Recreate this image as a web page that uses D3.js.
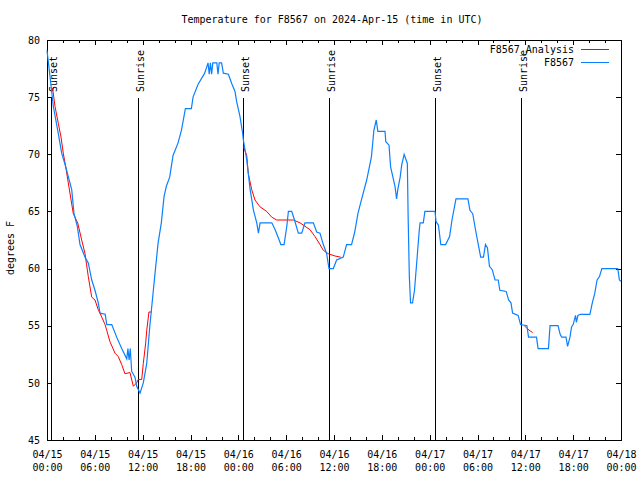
<!DOCTYPE html>
<html><head><meta charset="utf-8">
<script src="https://cdn.jsdelivr.net/npm/d3@7"></script>
<style>
body{margin:0;background:#fff;}
text{font-family:"DejaVu Sans Mono",monospace;font-size:10px;fill:#000;}
</style></head>
<body><svg id="c" width="640" height="480"></svg>
<script>
// ---- data (hours since 2024-04-15 00:00 UTC, temperature °F) ----
const titleText = "Temperature for F8567 on 2024-Apr-15 (time in UTC)";
const yLabel = "degrees F";
const seriesNames = ["F8567_Analysis", "F8567"];
const yTicks = [45, 50, 55, 60, 65, 70, 75, 80];

const stationSeries = [
[0.00,79.1],[0.38,76.8],[0.79,74.2],[1.42,71.8],[1.84,70.1],[2.35,68.9],[2.76,67.8],[3.10,66.9],
[3.39,64.8],[3.80,63.7],[4.14,62.1],[4.77,61.0],[5.18,60.5],[5.61,59.0],[6.02,58.1],[6.43,57.0],
[6.65,56.1],[7.3,56.0],[7.5,55.1],[8.12,55.1],[8.74,54.0],[9.37,53.0],[10.0,52.1],[10.15,53.0],
[10.3,52.0],[10.45,53.0],[10.62,51.0],[11.04,50.5],[11.25,49.7],[11.67,49.1],[12.08,50.0],
[12.51,51.7],[12.9,55.0],[13.1,56.4],[13.51,59.3],[13.93,62.2],[14.34,64.0],[14.68,66.3],
[14.97,67.2],[15.39,68.0],[15.81,69.9],[16.44,71.0],[16.86,72.1],[17.36,74.0],[18.11,74.0],
[18.32,75.0],[18.94,76.1],[19.78,77.1],[20.2,78.0],[20.35,77.0],[20.5,78.0],[20.65,77.0],
[20.8,78.0],[21.3,78.0],[21.45,77.0],[21.6,78.0],[21.9,78.0],[22.12,77.1],[22.75,77.0],
[23.17,76.2],[23.58,75.5],[23.79,74.6],[24.21,73.3],[24.55,71.8],[24.63,71.25],[25.06,69.5],
[25.48,66.9],[25.90,65.1],[26.31,64.0],[26.52,63.1],[26.73,64.0],[28.20,64.0],[28.62,63.4],
[29.12,62.5],[29.33,62.1],[29.74,62.1],[30.08,63.7],[30.28,65.0],[30.70,65.0],[31.11,64.1],
[31.53,63.1],[31.95,63.1],[32.36,64.0],[33.41,64.0],[33.83,63.2],[34.24,63.1],[34.66,62.1],
[35.08,61.3],[35.37,60.0],[35.91,60.0],[36.33,60.75],[37.16,61.0],[37.58,62.1],[38.2,62.1],
[38.6,63.2],[39.0,64.8],[39.4,65.9],[40.1,67.75],[40.7,69.8],[41.0,72.1],[41.3,73.0],
[41.5,72.0],[42.4,72.0],[42.5,71.1],[42.9,70.8],[43.1,68.9],[43.65,67.2],[43.85,66.1],
[44.0,66.9],[44.3,68.0],[44.5,69.1],[44.8,70.0],[45.2,69.2],[45.3,64.5],[45.45,59.3],
[45.6,57.0],[45.85,57.0],[46.1,58.1],[46.4,60.75],[46.7,63.4],[46.8,64.0],[47.2,64.0],
[47.4,65.0],[48.67,65.0],[48.8,64.1],[49.1,63.8],[49.4,62.1],[50.0,62.1],[50.5,62.8],
[50.8,64.25],[51.3,66.1],[52.8,66.1],[53.05,65.1],[53.4,64.8],[53.8,63.2],[54.1,62.1],
[54.4,61.0],[54.75,61.0],[55.0,62.1],[55.25,61.8],[55.5,60.2],[55.85,59.9],[56.2,59.0],
[56.6,59.0],[56.8,58.1],[57.6,58.0],[57.9,57.25],[58.2,57.0],[58.4,56.1],[59.1,55.9],
[59.4,55.1],[60.2,55.0],[60.4,54.0],[61.4,54.0],[61.6,53.0],[62.9,53.0],[63.1,55.0],
[64.1,55.0],[64.35,54.3],[64.55,54.0],[65.1,54.0],[65.3,53.2],[65.6,54.0],[65.8,54.9],
[66.0,55.1],[66.3,55.9],[66.4,55.3],[66.6,55.9],[66.9,56.0],[68.1,56.0],[68.4,57.0],
[68.7,57.8],[69.0,59.0],[69.3,59.3],[69.6,60.0],[71.6,60.0],[71.8,59.0],[72.0,58.9]
];

const analysisSeg1 = [
[0.70,75.8],[1.00,74.2],[1.42,72.7],[1.76,71.5],[2.04,70.1],[2.35,68.9],[2.67,67.5],[3.30,64.8],
[3.85,64.0],[4.35,62.5],[4.77,61.3],[5.18,59.3],[5.61,57.5],[6.02,57.25],[6.43,56.4],[6.65,56.1],
[7.28,55.1],[7.49,54.6],[7.90,53.6],[8.53,52.6],[8.94,52.3],[9.37,51.6],[9.78,50.8],[10.41,50.9],
[10.83,49.7],[11.25,50.0],[11.45,50.3],[11.88,50.3],[12.08,51.7],[12.38,53.5],[12.51,54.6],
[12.79,56.2],[13.13,56.2]
];
const analysisSeg2 = [
[24.62,70.7],[25.05,69.9],[25.25,68.3],[25.68,66.9],[26.09,66.0],[26.72,65.4],[27.56,65.0],
[28.19,64.5],[28.81,64.25],[30.90,64.25],[31.74,64.0],[32.36,63.7],[32.99,63.4],[33.62,62.8],
[34.24,62.1],[34.66,61.6],[35.28,61.3],[36.13,61.1],[36.84,61.0]
];
const analysisSeg3 = [
[59.87,55.0],[60.17,54.8],[60.59,54.55],[60.92,54.4]
];

const sunLabels = ["Sunset", "Sunrise", "Sunset", "Sunrise", "Sunset", "Sunrise"];
const sunHours  = [0.56, 11.45, 24.63, 35.42, 48.67, 59.5];

// ---- layout ----
const svg = d3.select("#c");
const L = 47, R = 621, T = 40, B = 440;
const t0 = Date.UTC(2024, 3, 15, 0, 0);
const toDate = h => new Date(t0 + h * 3600e3);
const x = d3.scaleUtc().domain([toDate(0), toDate(72)]).range([L, R]);
const y = d3.scaleLinear().domain([45, 80]).range([B, T]);
const red = "#ff0000", blue = "#0a80ff";

// title
svg.append("text").attr("x", 332).attr("y", 23).attr("text-anchor", "middle").text(titleText);

// y label
svg.append("text").attr("transform", "translate(14,248) rotate(-90)")
  .attr("text-anchor", "middle").text(yLabel);

// axes
const majorX = d3.utcHour.every(6).range(toDate(0), toDate(72.01));
const minorX = d3.utcHour.every(2).range(toDate(0), toDate(72.01));
const fmtD = d3.utcFormat("%m/%d"), fmtH = d3.utcFormat("%H:%M");

const gx = svg.append("g").attr("transform", `translate(0,${B})`)
  .call(d3.axisBottom(x).tickValues(majorX).tickSize(-5).tickSizeOuter(0).tickFormat(""));
gx.select(".domain").remove();
gx.selectAll(".tick text").remove();
gx.selectAll(".tick").each(function(d){
  const t = d3.select(this).append("text").attr("text-anchor", "middle");
  t.append("tspan").attr("x", 0).attr("y", 18).text(fmtD(d));
  t.append("tspan").attr("x", 0).attr("y", 31).text(fmtH(d));
});
svg.append("g").attr("transform", `translate(0,${B})`)
  .call(d3.axisBottom(x).tickValues(minorX).tickSize(-3).tickSizeOuter(0).tickFormat(""))
  .call(g => g.select(".domain").remove());
// top mirrored ticks
svg.append("g").attr("transform", `translate(0,${T})`)
  .call(d3.axisTop(x).tickValues(majorX).tickSize(-5).tickSizeOuter(0).tickFormat(""))
  .call(g => g.select(".domain").remove());
svg.append("g").attr("transform", `translate(0,${T})`)
  .call(d3.axisTop(x).tickValues(minorX).tickSize(-3).tickSizeOuter(0).tickFormat(""))
  .call(g => g.select(".domain").remove());

const gy = svg.append("g").attr("transform", `translate(${L},0)`)
  .call(d3.axisLeft(y).tickValues(yTicks).tickSize(-5).tickSizeOuter(0).tickPadding(7).tickFormat(d3.format("d")));
gy.select(".domain").remove();
svg.append("g").attr("transform", `translate(${R},0)`)
  .call(d3.axisRight(y).tickValues(yTicks).tickSize(-5).tickSizeOuter(0).tickFormat(""))
  .call(g => g.select(".domain").remove());

svg.selectAll(".tick line").attr("stroke", "#000").attr("shape-rendering", "crispEdges");
svg.selectAll(".tick text").attr("font-family", "DejaVu Sans Mono").attr("font-size", 10).attr("fill", "#000");

// border
svg.append("rect").attr("x", L).attr("y", T).attr("width", R - L).attr("height", B - T)
  .attr("fill", "none").attr("stroke", "#000").attr("shape-rendering", "crispEdges");

// sunrise / sunset markers
sunHours.forEach((h, i) => {
  const sx = Math.round(x(toDate(h))) + 0.5;
  svg.append("line").attr("x1", sx).attr("x2", sx).attr("y1", 98).attr("y2", B)
    .attr("stroke", "#000").attr("stroke-width", 1);
  svg.append("text").attr("transform", `translate(${sx + 5},92) rotate(-90)`)
    .attr("text-anchor", "start").text(sunLabels[i]);
});

// lines
const line = d3.line().x(d => x(toDate(d[0]))).y(d => y(d[1]));
[analysisSeg1, analysisSeg2, analysisSeg3].forEach(seg => {
  svg.append("path").datum(seg).attr("d", line).attr("fill", "none")
    .attr("stroke", red).attr("stroke-width", 1);
});
svg.append("path").datum(stationSeries).attr("d", line).attr("fill", "none")
  .attr("stroke", blue).attr("stroke-width", 1.2);

// legend
const legColors = [red, blue];
seriesNames.forEach((n, i) => {
  const ly = 49.5 + i * 13;
  svg.append("text").attr("x", 574).attr("y", ly + 3.5).attr("text-anchor", "end").text(n);
  svg.append("line").attr("x1", 581).attr("x2", 609).attr("y1", ly).attr("y2", ly)
    .attr("stroke", legColors[i]).attr("stroke-width", 1);
});
</script></body></html>
